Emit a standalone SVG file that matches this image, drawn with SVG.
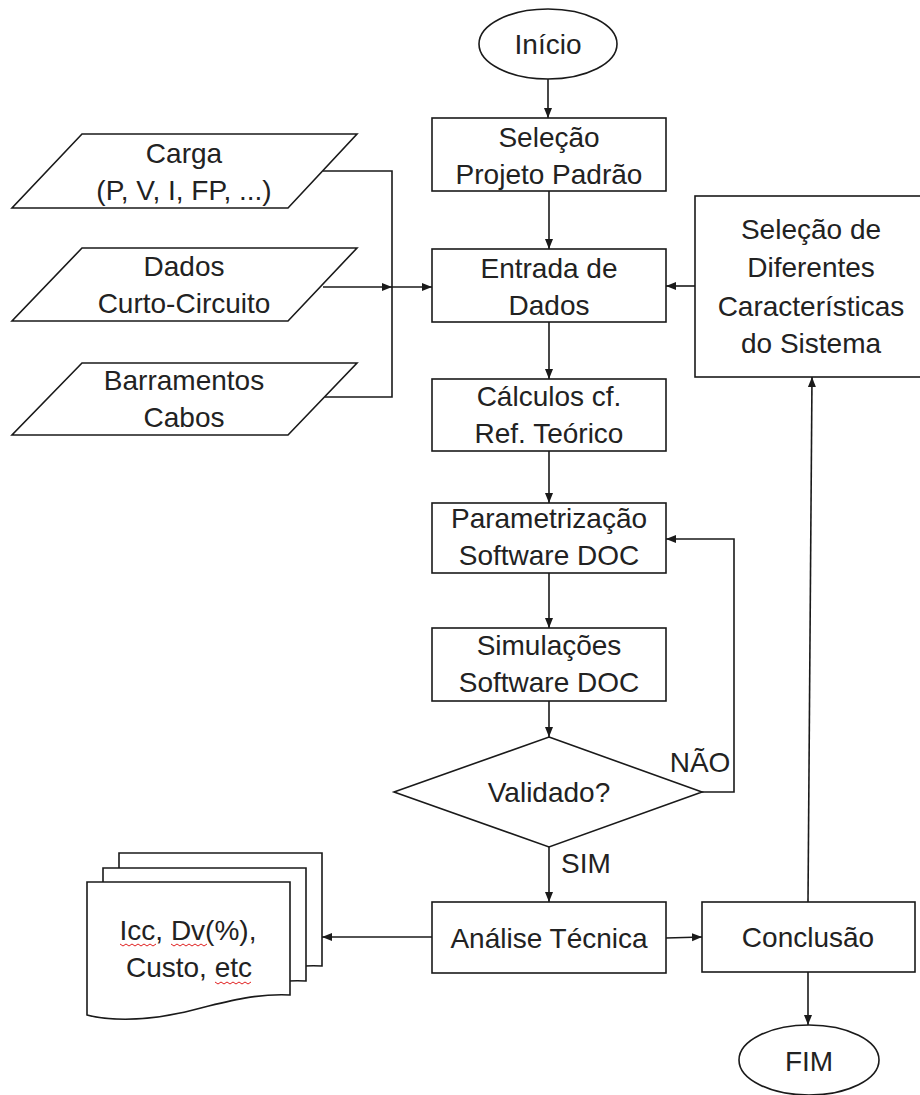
<svg xmlns="http://www.w3.org/2000/svg" width="920" height="1095" viewBox="0 0 920 1095">
<style>
.s{fill:#fff;stroke:#1a1a1a;stroke-width:1.6}
.c{fill:none;stroke:#1a1a1a;stroke-width:1.6}
.t{font-family:"Liberation Sans",Arial,sans-serif;font-size:28px;fill:#222;text-anchor:middle}
.sq{fill:none;stroke:#e02020;stroke-width:1}
</style>
<defs>
<marker id="ah" viewBox="0 0 10 10" refX="10" refY="5" markerWidth="10" markerHeight="10" markerUnits="userSpaceOnUse" orient="auto">
<path d="M0,1 L10,5 L0,9 Z" fill="#1a1a1a"/>
</marker>
<path id="doc" d="M0,0 H203 V113 C163,111 128,123 93,131 C53,140 18,138 0,133 Z"/>
</defs>

<g id="connectors">
<line class="c" x1="548" y1="79" x2="548" y2="118" marker-end="url(#ah)"/>
<line class="c" x1="549" y1="191" x2="549" y2="249" marker-end="url(#ah)"/>
<line class="c" x1="549" y1="322" x2="549" y2="379" marker-end="url(#ah)"/>
<line class="c" x1="549" y1="451" x2="549" y2="503" marker-end="url(#ah)"/>
<line class="c" x1="549" y1="573" x2="549" y2="628" marker-end="url(#ah)"/>
<line class="c" x1="549" y1="701" x2="549" y2="737" marker-end="url(#ah)"/>
<line class="c" x1="549" y1="847" x2="549" y2="902" marker-end="url(#ah)"/>
<polyline class="c" points="702,792 734,792 734,539 666,539" marker-end="url(#ah)"/>
<polyline class="c" points="323,171 392,171 392,397 325,397"/>
<line class="c" x1="323" y1="287" x2="392" y2="287" marker-end="url(#ah)"/>
<line class="c" x1="392" y1="287" x2="432" y2="287" marker-end="url(#ah)"/>
<line class="c" x1="695" y1="286" x2="666" y2="286" marker-end="url(#ah)"/>
<line class="c" x1="432" y1="937" x2="322" y2="937" marker-end="url(#ah)"/>
<line class="c" x1="666" y1="938" x2="702" y2="937" marker-end="url(#ah)"/>
<line class="c" x1="808" y1="902" x2="812" y2="377" marker-end="url(#ah)"/>
<line class="c" x1="808" y1="972" x2="808" y2="1025" marker-end="url(#ah)"/>
</g>

<g id="inicio">
<ellipse class="s" cx="548" cy="44" rx="69" ry="35"/>
<text class="t" x="548" y="54">Início</text>
</g>

<g id="selecao-projeto">
<rect class="s" x="432" y="118" width="234" height="73"/>
<text class="t" x="549" y="147">Seleção</text>
<text class="t" x="549" y="184">Projeto Padrão</text>
</g>

<g id="entrada-dados">
<rect class="s" x="432" y="249" width="234" height="73"/>
<text class="t" x="549" y="278">Entrada de</text>
<text class="t" x="549" y="315">Dados</text>
</g>

<g id="calculos">
<rect class="s" x="432" y="379" width="234" height="72"/>
<text class="t" x="549" y="406">Cálculos cf.</text>
<text class="t" x="549" y="443">Ref. Teórico</text>
</g>

<g id="parametrizacao">
<rect class="s" x="432" y="503" width="234" height="70"/>
<text class="t" x="549" y="528">Parametrização</text>
<text class="t" x="549" y="565">Software DOC</text>
</g>

<g id="simulacoes">
<rect class="s" x="432" y="628" width="234" height="73"/>
<text class="t" x="549" y="655">Simulações</text>
<text class="t" x="549" y="692">Software DOC</text>
</g>

<g id="validado">
<polygon class="s" points="549,737 702,792 549,847 394,792"/>
<text class="t" x="549" y="802">Validado?</text>
<text class="t" x="700" y="772">NÃO</text>
<text class="t" x="586" y="873">SIM</text>
</g>

<g id="analise">
<rect class="s" x="432" y="902" width="234" height="71"/>
<text class="t" x="549" y="948">Análise Técnica</text>
</g>

<g id="conclusao">
<rect class="s" x="702" y="902" width="213" height="70"/>
<text class="t" x="808" y="947">Conclusão</text>
</g>

<g id="fim">
<ellipse class="s" cx="809" cy="1060" rx="70" ry="35"/>
<text class="t" x="809" y="1071">FIM</text>
</g>

<g id="selecao-diferentes">
<rect class="s" x="695" y="196" width="234" height="181"/>
<text class="t" x="811" y="239">Seleção de</text>
<text class="t" x="811" y="277">Diferentes</text>
<text class="t" x="811" y="316">Características</text>
<text class="t" x="811" y="353">do Sistema</text>
</g>

<g id="carga">
<polygon class="s" points="82,134 357,134 288,208 12,208"/>
<text class="t" x="184" y="163">Carga</text>
<text class="t" x="184" y="200">(P, V, I, FP, ...)</text>
</g>

<g id="dados-cc">
<polygon class="s" points="82,248 357,248 288,321 12,321"/>
<text class="t" x="184" y="276">Dados</text>
<text class="t" x="184" y="313">Curto-Circuito</text>
</g>

<g id="barramentos">
<polygon class="s" points="82,363 357,363 288,435 12,435"/>
<text class="t" x="184" y="390">Barramentos</text>
<text class="t" x="184" y="427">Cabos</text>
</g>

<g id="documentos">
<use href="#doc" class="s" x="119" y="853"/>
<use href="#doc" class="s" x="103" y="868"/>
<use href="#doc" class="s" x="87" y="882"/>
<text class="t" x="188" y="940">Icc, Dv(%),</text>
<text class="t" x="189" y="977">Custo, etc</text>
<path class="sq" d="M120,944 l3,2 l3,-2 l3,2 l3,-2 l3,2 l3,-2 l3,2 l3,-2 l3,2 l3,-2 l3,2 l3,-2 M171,944 l3,2 l3,-2 l3,2 l3,-2 l3,2 l3,-2 l3,2 l3,-2 l3,2 l3,-2 l3,2 l3,-2 M215,982 l3,2 l3,-2 l3,2 l3,-2 l3,2 l3,-2 l3,2 l3,-2 l3,2 l3,-2 l3,2 l3,-2"/>
</g>
</svg>
